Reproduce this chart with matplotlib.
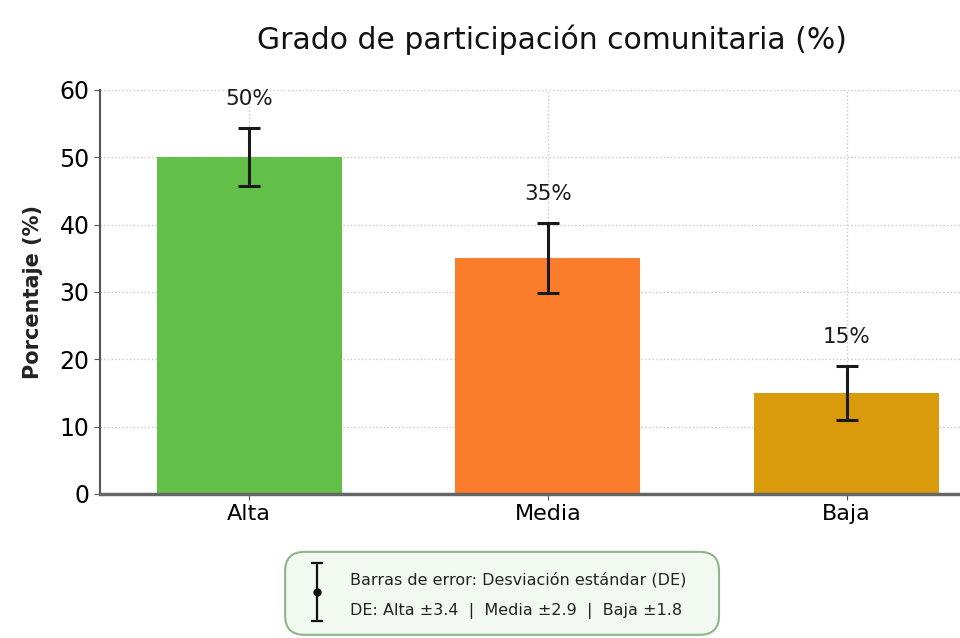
import matplotlib.pyplot as plt
from matplotlib.patches import FancyBboxPatch

# data
categorias = ["Alta", "Media", "Baja"]
porcentajes = [50, 35, 15]
errores = [4.3, 5.2, 4.0]          # half-length of the drawn error bars
colores = ["#62bf47", "#fb7d2c", "#d99a0c"]
etiquetas = ["50%", "35%", "15%"]
nota1 = "Barras de error: Desviación estándar (DE)"
nota2 = "DE: Alta ±3.4  |  Media ±2.9  |  Baja ±1.8"

plt.rcParams["font.family"] = ["DejaVu Sans"]

fig = plt.figure(figsize=(9.6, 6.38), dpi=100)
ax = fig.add_axes([0.104, 0.226, 0.896, 0.633])

x = range(len(categorias))
ax.bar(x, porcentajes, width=0.62, color=colores, zorder=2)
ax.errorbar(x, porcentajes, yerr=errores, fmt="none", ecolor="#1a1a1a",
            elinewidth=2.2, capsize=8, capthick=2.2, zorder=3)

for i, (v, e, t) in enumerate(zip(porcentajes, errores, etiquetas)):
    ax.text(i, v + e + 4.3, t, ha="center", va="center", fontsize=15.5,
            color="#1a1a1a", fontweight="medium")

ax.set_xlim(-0.5, 2.38)
ax.set_ylim(0, 60)
ax.set_yticks(range(0, 61, 10))
ax.set_xticks(list(x))
ax.set_xticklabels(categorias, fontsize=16)
ax.tick_params(axis="y", labelsize=17, length=4, color="#555555")
ax.tick_params(axis="x", length=4, color="#555555")
ax.grid(True, linestyle=":", color="#c8c8c8", linewidth=1, zorder=0)
ax.set_axisbelow(True)
for s in ["top", "right"]:
    ax.spines[s].set_visible(False)
ax.spines["left"].set_color("#555555")
ax.spines["left"].set_linewidth(1.5)
ax.spines["bottom"].set_color("#666666")
ax.spines["bottom"].set_linewidth(2.5)

ax.set_ylabel("Porcentaje (%)", fontsize=15, fontweight="bold",
              color="#222222", labelpad=12)
fig.suptitle("Grado de participación comunitaria (%)", fontsize=21.5, x=0.575, y=0.962,
             color="#111111")

# note box under the chart
box = FancyBboxPatch((0.297, 0.005), 0.452, 0.13, transform=fig.transFigure,
                     boxstyle="round,pad=0,rounding_size=0.02",
                     facecolor="#f2f9f0", edgecolor="#8fb58a", linewidth=1.5,
                     mutation_aspect=960 / 638, zorder=-1)
fig.patches.append(box)
fig.text(0.365, 0.091, nota1, fontsize=11.5, va="center", color="#222222")
fig.text(0.365, 0.043, nota2, fontsize=11.5, va="center", color="#222222")

# error-bar symbol in the note box
sym = fig.add_axes([0.315, 0.02, 0.03, 0.105])
sym.set_zorder(5)
sym.patch.set_alpha(0)
sym.errorbar([0], [0], yerr=[1], fmt="o", color="#111111", markersize=5,
             capsize=4, elinewidth=1.6, capthick=1.6)
sym.set_xlim(-1, 1)
sym.set_ylim(-1.15, 1.15)
sym.axis("off")

fig.savefig("out.png", dpi=100)
